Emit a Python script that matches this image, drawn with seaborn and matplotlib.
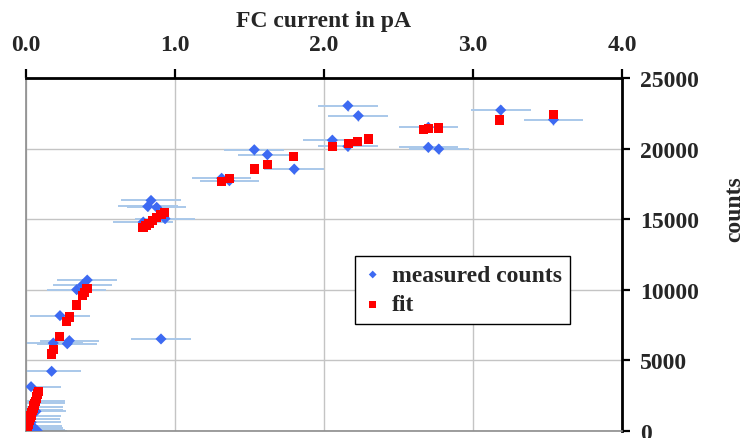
import matplotlib
matplotlib.use("Agg")
import matplotlib.pyplot as plt
import seaborn as sns
import pandas as pd

# ---------------- data ----------------
meas_current = [0.060, 0.075, 0.050, 0.040, 0.035, 0.030, 0.035, 0.067, 0.045, 0.050,
                0.060, 0.064, 0.034, 0.172, 0.183, 0.277, 0.291, 0.906, 0.228, 0.340,
                0.380, 0.411, 0.787, 0.933, 0.877, 0.817, 0.839, 1.313, 1.365, 1.800,
                1.620, 1.532, 2.056, 2.160, 2.700, 2.770, 2.700, 2.230, 2.160, 3.540,
                3.186]
meas_counts = [70, 30, 190, 380, 620, 850, 1090, 1390, 1490, 1680,
               1960, 2140, 3140, 4230, 6230, 6180, 6400, 6520, 8170, 10010,
               10360, 10690, 14800, 15040, 15840, 15900, 16330, 17900, 17730, 18550,
               19570, 19920, 20600, 20160, 20090, 19970, 21510, 22330, 23040, 22050,
               22730]
meas_counts_err = [20, 15, 35, 50, 60, 70, 80, 90, 95, 100,
                   110, 115, 135, 160, 190, 190, 195, 195, 220, 240,
                   245, 250, 295, 300, 305, 305, 310, 325, 325, 330,
                   340, 340, 350, 345, 345, 345, 355, 360, 365, 360,
                   365]
current_err = 0.2

fit_current = [0.003, 0.008, 0.013, 0.018, 0.023, 0.028, 0.033, 0.038, 0.043, 0.048,
               0.053, 0.058, 0.063, 0.068, 0.073, 0.078, 0.083,
               0.172, 0.183, 0.224, 0.273, 0.291, 0.340, 0.380, 0.392, 0.409,
               0.785, 0.805, 0.825, 0.850, 0.877, 0.906, 0.930,
               1.313, 1.365, 1.532, 1.620, 1.794, 2.056, 2.163, 2.226, 2.300,
               2.670, 2.700, 2.770, 3.180, 3.540]
fit_counts = [100, 270, 440, 600, 770, 940, 1110, 1270, 1440, 1610,
              1780, 1950, 2110, 2280, 2450, 2620, 2780,
              5450, 5750, 6700, 7750, 8070, 8930, 9600, 9800, 10100,
              14400, 14560, 14720, 14900, 15130, 15330, 15500,
              17680, 17900, 18550, 18890, 19440, 20150, 20370, 20520, 20680,
              21330, 21400, 21460, 22030, 22400]

x_ticks = [0, 1, 2, 3, 4]
x_tick_labels = ["0.0", "1.0", "2.0", "3.0", "4.0"]
y_ticks = [0, 5000, 10000, 15000, 20000, 25000]
y_tick_labels = ["0", "5000", "10000", "15000", "20000", "25000"]

meas_df = pd.DataFrame({"current": meas_current, "counts": meas_counts})
fit_df = pd.DataFrame({"current": fit_current, "counts": fit_counts})

# ---------------- style ----------------
sns.set_style("white")
plt.rcParams["font.family"] = ["Liberation Serif", "DejaVu Serif"]
plt.rcParams["font.weight"] = "bold"
FS = 17

fig = plt.figure(figsize=(7.47, 4.39), dpi=100)
ax = fig.add_axes([26 / 747, 1 - 432 / 439, 596 / 747, 353 / 439])

# error bars
ax.errorbar(meas_current, meas_counts, xerr=current_err, fmt="none",
            ecolor="#A9C8EA", elinewidth=1.4, capsize=0, zorder=2)
ax.errorbar(meas_current, meas_counts, yerr=meas_counts_err, fmt="none",
            ecolor="#7E9EEA", elinewidth=1.0, capsize=0, zorder=2)

sns.scatterplot(data=meas_df, x="current", y="counts", marker="D", s=32,
                color="#3D6AF2", edgecolor="none", linewidth=0, ax=ax,
                label="measured counts", zorder=3)
sns.scatterplot(data=fit_df, x="current", y="counts", marker="s", s=44,
                color="#FF0000", edgecolor="none", linewidth=0, ax=ax,
                label="fit", zorder=4)

ax.set_xlim(0, 4)
ax.set_ylim(0, 25000)
ax.set_xticks(x_ticks)
ax.set_xticklabels(x_tick_labels)
ax.set_yticks(y_ticks)
ax.set_yticklabels(y_tick_labels)

ax.xaxis.tick_top()
ax.xaxis.set_label_position("top")
ax.yaxis.tick_right()
ax.yaxis.set_label_position("right")

ax.grid(True, color="#C4C4C4", linewidth=1.0)
ax.set_axisbelow(True)

for side in ["top", "right"]:
    ax.spines[side].set_color("black")
    ax.spines[side].set_linewidth(2.0)
for side in ["left", "bottom"]:
    ax.spines[side].set_color("#8C8C8C")
    ax.spines[side].set_linewidth(1.2)

ax.tick_params(axis="x", which="both", top=True, bottom=False, direction="out",
               length=6.5, width=1.6, color="black", pad=10, labelsize=FS)
ax.tick_params(axis="y", which="both", right=True, left=False, direction="out",
               length=6, width=1.6, color="black", pad=7, labelsize=FS)
for lab in ax.get_xticklabels() + ax.get_yticklabels():
    lab.set_fontweight("bold")

ax.set_xlabel("FC current in pA", fontsize=FS, fontweight="bold", labelpad=6)
ax.set_ylabel("counts", fontsize=FS, fontweight="bold", rotation=90)
ax.yaxis.set_label_coords(1.172, 0.63)

leg = ax.legend(loc="upper left", bbox_to_anchor=(0.552, 0.496), frameon=True,
                fancybox=False, edgecolor="black", framealpha=1,
                prop={"size": FS, "weight": "bold"}, markerscale=0.7,
                handletextpad=0.4, labelspacing=0.35, borderpad=0.35,
                handlelength=0.8, borderaxespad=0)
leg.get_frame().set_linewidth(1.0)

fig.savefig("out.png", dpi=100)
